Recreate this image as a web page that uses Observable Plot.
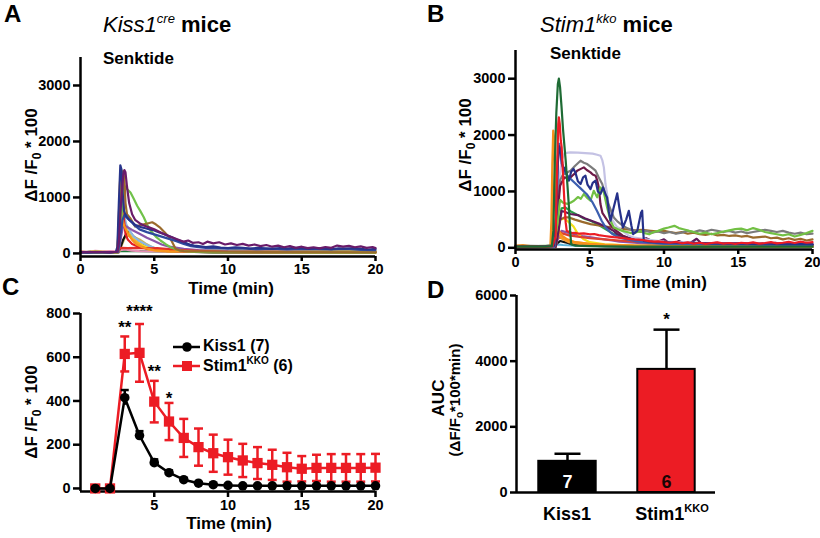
<!DOCTYPE html>
<html><head><meta charset="utf-8">
<script src="https://cdn.jsdelivr.net/npm/d3@7"></script>
<script src="https://cdn.jsdelivr.net/npm/@observablehq/plot@0.6"></script>
<style>
body{margin:0;background:#fff;}
#fig{position:relative;width:820px;height:538px;overflow:hidden;background:#fff;font-family:"Liberation Sans",Arial,Helvetica,sans-serif;}
</style></head><body><div id="fig"></div>
<script>
// ---------- DATA ----------
// Panel A / B tick labels
const TRACE_X_TICKS = [0, 5, 10, 15, 20];
const TRACE_Y_TICKS = [0, 1000, 2000, 3000];
const C_X_TICKS = [5, 10, 15, 20];
const C_Y_TICKS = [0, 200, 400, 600, 800];
const D_Y_TICKS = [0, 2000, 4000, 6000];

// Panel A traces (time min, ΔF/F0*100) – Kiss1cre
const A_darkgreen = [[0,30],[0.3,20],[0.7,35],[1.2,25],[1.6,30],[2,20],[2.5,25],[2.7,40],[3,45],[4,40],[5,35],[6,30],[8,25],[10,30],[12,25],[15,30],[20,25]];
const A_pink = [[0,40],[0.5,30],[1,45],[1.5,35],[2,40],[2.5,35],[2.7,60],[3,70],[3.5,50],[4,40],[6,30],[20,20]];
const A_khaki = [[0,10],[2.6,20],[2.8,150],[3.0,280],[3.3,320],[3.6,300],[4.0,250],[4.4,180],[4.8,120],[5.2,80],[6,50],[8,30],[20,20]];
const A_black = [[0,10],[2.5,15],[2.7,100],[2.9,250],[3.1,350],[3.3,400],[3.5,330],[3.8,250],[4.1,170],[4.5,110],[5,70],[5.5,50],[6,40],[7,30],[9,20],[20,15]];
const A_yellow = [[0,30],[0.5,25],[1,35],[1.5,30],[2,25],[2.5,30],[2.65,200],[2.8,450],[3.0,520],[3.2,450],[3.5,320],[3.8,220],[4.2,150],[4.6,100],[5,80],[6,60],[7,50],[8,45],[9,50],[10,40],[10.5,55],[11,45],[11.5,60],[12,50],[12.5,55],[13,65],[13.5,60],[14,70],[14.5,60],[15,55],[15.5,50],[16,60],[16.5,45],[17,55],[17.5,50],[18,60],[18.5,45],[19,55],[19.5,50],[20,45]];
const A_orange2 = [[0,15],[2.5,25],[2.6,500],[2.68,900],[2.78,850],[2.9,620],[3.0,500],[3.2,350],[3.5,260],[3.8,200],[4.2,120],[4.6,70],[5.2,45],[6,30],[20,15]];
const A_lightblue = [[0,15],[2.5,20],[2.6,300],[2.7,1100],[2.78,1250],[2.86,900],[2.95,700],[3.1,520],[3.3,420],[3.6,300],[4.0,220],[4.5,150],[5,100],[5.5,70],[6,50],[7,35],[20,20]];
const A_violet = [[0,10],[2.6,20],[2.75,300],[2.9,500],[3.1,480],[3.5,420],[4,350],[4.5,280],[5,220],[5.5,160],[6,120],[7,80],[8,60],[10,40],[20,30]];
const A_red2 = [[0,10],[2,15],[2.55,20],[2.65,80],[2.75,100],[3.2,95],[3.8,100],[4.5,90],[5.2,95],[5.8,80],[6.5,65],[7.2,55],[8,45],[9,35],[10,25],[12,20],[20,15]];
const A_red = [[0,15],[2,20],[2.55,25],[2.62,600],[2.72,1300],[2.8,1415],[2.88,1100],[2.95,600],[3.05,350],[3.2,250],[3.5,170],[4.0,110],[4.5,90],[5.0,70],[6,50],[7,35],[8,25],[10,20],[20,15]];
const A_orange = [[0,20],[2,25],[2.5,30],[2.58,400],[2.66,1200],[2.72,1450],[2.8,1100],[2.86,600],[2.95,500],[3.1,420],[3.3,320],[3.5,240],[3.8,160],[4.2,110],[4.6,80],[5.0,60],[6,40],[8,30],[20,20]];
const A_green = [[0,10],[2,15],[2.55,20],[2.7,400],[2.85,900],[3.0,1200],[3.15,1150],[3.39,1089],[3.6,980],[3.84,852],[4.05,760],[4.29,645],[4.5,520],[4.75,408],[5.1,300],[5.42,231],[5.8,160],[6.1,112],[6.5,70],[6.78,50],[7.5,30],[9,20],[20,15]];
const A_brown = [[0,25],[1,20],[2,25],[2.5,30],[2.58,500],[2.62,830],[2.72,840],[2.82,1350],[2.9,1474],[2.98,1300],[3.05,900],[3.15,700],[3.4,620],[3.7,480],[4.0,500],[4.3,520],[4.6,540],[4.86,556],[5.1,520],[5.42,456],[5.7,380],[5.9,320],[6.1,261],[6.3,160],[6.44,83],[6.7,55],[7,40],[8,35],[10,30],[14,25],[20,20]];
const A_blue2 = [[0,15],[2,20],[2.55,30],[2.7,300],[2.85,600],[3.0,700],[3.1,680],[3.3,600],[3.6,520],[4.0,430],[4.5,380],[5.0,340],[5.5,300],[6.0,260],[6.5,220],[7.0,170],[7.5,130],[8,110],[8.5,100],[9,95],[10,85],[11,90],[12,75],[13,85],[14,70],[15,80],[16,75],[17,70],[18,80],[19,65],[20,60]];
const A_navy = [[0,25],[0.5,20],[1,30],[1.5,25],[2,20],[2.4,30],[2.5,120],[2.6,900],[2.7,1575],[2.78,1500],[2.85,1100],[2.95,760],[3.1,650],[3.3,600],[3.5,560],[3.7,510],[3.9,490],[4.1,470],[4.4,450],[4.7,430],[5.0,410],[5.3,380],[5.6,350],[5.9,320],[6.2,290],[6.5,250],[6.8,220],[7.1,190],[7.4,160],[7.7,140],[8.0,130],[8.5,115],[9,125],[9.5,105],[10,95],[10.5,110],[11,100],[11.5,85],[12,100],[12.5,90],[13,80],[13.5,95],[14,85],[14.5,100],[15,95],[15.5,80],[16,95],[16.5,85],[17,75],[17.5,90],[18,85],[18.5,95],[19,80],[19.5,70],[20,80]];
const A_purple = [[0,20],[1,25],[2,20],[2.5,30],[2.6,200],[2.75,900],[2.9,1400],[2.98,1487],[3.05,1450],[3.15,1200],[3.3,900],[3.5,700],[3.7,600],[4.0,540],[4.3,500],[4.6,470],[5.0,430],[5.4,380],[5.8,330],[6.2,290],[6.6,250],[7.0,210],[7.3,230],[7.6,190],[8.0,200],[8.3,170],[8.6,210],[9.0,180],[9.4,200],[9.8,160],[10.2,180],[10.6,150],[11,170],[11.4,140],[11.8,160],[12.2,130],[12.6,150],[13,120],[13.4,140],[13.8,110],[14.2,130],[14.6,100],[15,120],[15.4,95],[15.8,110],[16.2,90],[16.6,115],[17,100],[17.4,140],[17.8,120],[18.2,135],[18.6,110],[19,125],[19.4,100],[19.8,115],[20,95]];

// Panel B traces – Stim1kko
const B_cyan = [[0,5],[2.6,10],[2.8,60],[3.2,50],[4,40],[6,30],[10,20],[20,15]];
const B_black = [[0,10],[2.6,15],[2.8,80],[3,120],[3.3,100],[3.6,80],[4,60],[5,40],[6,30],[8,20],[20,15]];
const B_orange3 = [[0,10],[2.6,15],[2.8,150],[3,180],[3.5,130],[4,100],[5,70],[6,50],[8,35],[10,30],[20,25]];
const B_violet = [[0,10],[2.7,15],[2.9,200],[3.1,300],[3.5,270],[4,240],[4.5,210],[5,190],[5.5,170],[6,150],[6.5,130],[7,110],[8,90],[9,70],[10,60],[12,55],[15,50],[20,45]];
const B_yellow = [[0,15],[2.7,20],[2.85,300],[3.0,500],[3.3,520],[3.6,450],[3.9,380],[4.2,250],[4.6,150],[5,100],[6,60],[8,40],[20,25]];
const B_red2 = [[0,10],[2.7,15],[2.9,300],[3.1,260],[3.6,220],[4.2,200],[5,170],[6,150],[7,130],[8,110],[9,100],[10,80],[12,70],[14,60],[16,55],[18,60],[20,50]];
const B_green2 = [[0,15],[2.7,20],[2.9,400],[3.1,700],[3.35,716],[3.7,650],[4.2,580],[4.6,520],[5.05,480],[5.5,420],[6.0,340],[6.62,243],[7.2,190],[7.8,150],[8.4,124],[9,100],[10,85],[11,70],[12,75],[13,60],[14,65],[15,55],[16,60],[17,50],[18,55],[19,45],[20,50]];
const B_brown = [[0,30],[1,25],[2,30],[2.6,35],[2.8,300],[3.0,500],[3.3,540],[3.6,539],[4.0,500],[4.5,460],[5.05,420],[5.5,400],[6.0,380],[6.5,360],[7.0,340],[7.3,331],[7.7,320],[8.1,310],[8.5,320],[9.1,302],[9.5,290],[10,300],[10.4,280],[10.8,260],[11.2,280],[11.6,250],[12,270],[12.4,240],[12.8,230],[13.2,250],[13.6,220],[14,230],[14.4,210],[14.8,220],[15.2,200],[15.6,210],[16,180],[16.4,190],[16.8,200],[17.2,170],[17.6,180],[18,150],[18.4,170],[18.8,140],[19.2,160],[19.6,130],[20,150]];
const B_orange2 = [[0,20],[2.4,25],[2.5,300],[2.58,1000],[2.66,1400],[2.75,1200],[2.85,500],[2.95,250],[3.2,150],[3.6,100],[4.5,60],[6,40],[20,25]];
const B_orange = [[0,40],[0.5,50],[1,30],[2,25],[2.35,40],[2.42,500],[2.48,1500],[2.54,2078],[2.6,1950],[2.66,1300],[2.72,700],[2.8,400],[2.95,280],[3.2,200],[3.5,150],[4,100],[5,70],[6,55],[8,40],[10,35],[20,30]];
const B_plum2 = [[0,15],[2.7,20],[2.9,300],[3.1,650],[3.3,640],[3.7,600],[4.2,580],[4.7,520],[5.2,470],[5.7,420],[6.2,360],[6.6,300],[6.85,243],[7.2,210],[7.6,180],[8,160],[8.4,140],[8.8,170],[9.2,120],[9.6,110],[10,150],[10.3,90],[10.7,80],[11,120],[11.4,70],[11.8,90],[12.2,160],[12.5,80],[13,70],[13.5,90],[14,75],[15,80],[16,70],[17,60],[17.5,90],[18,65],[19,70],[20,60]];
const B_lavender = [[0,15],[2.6,20],[2.75,400],[2.9,1100],[3.1,1550],[3.3,1680],[3.7,1693],[4.2,1690],[4.7,1680],[5.2,1670],[5.5,1650],[5.72,1634],[5.85,1550],[5.95,1427],[6.06,1131],[6.17,954],[6.3,700],[6.5,500],[6.8,380],[7.2,300],[7.6,220],[8,180],[9,140],[10,110],[12,90],[15,80],[20,70]];
const B_gray = [[0,30],[1,35],[2,30],[2.6,40],[2.8,600],[3.0,1200],[3.2,1300],[3.5,1340],[3.7,1368],[4.0,1450],[4.2,1500],[4.38,1545],[4.6,1510],[4.83,1486],[5.1,1430],[5.39,1368],[5.6,1250],[5.84,1131],[6.0,980],[6.17,835],[6.4,680],[6.62,539],[6.9,460],[7.2,400],[7.5,350],[7.8,320],[8.1,300],[8.4,280],[8.8,300],[9.2,270],[9.6,290],[10,260],[10.4,280],[10.8,250],[11.2,270],[11.6,300],[12,280],[12.4,310],[12.8,290],[13.2,320],[13.6,300],[14,280],[14.4,300],[14.8,270],[15.2,290],[15.6,260],[16,280],[16.4,300],[16.8,320],[17.2,300],[17.6,280],[18,300],[18.4,270],[18.8,250],[19.2,270],[19.6,240],[20,250]];
const B_plum = [[0,20],[2.6,25],[2.8,500],[3.0,1100],[3.3,1250],[3.6,1220],[3.82,1279],[4.0,1320],[4.15,1368],[4.4,1400],[4.6,1427],[4.8,1380],[5.05,1338],[5.2,1300],[5.39,1279],[5.5,1200],[5.61,1071],[5.72,776],[5.85,620],[6.1,520],[6.4,400],[6.8,300],[7.2,220],[7.6,170],[8,140],[9,110],[10,90],[12,80],[15,70],[20,60]];
const B_lime = [[0,30],[1,25],[2,35],[2.6,40],[2.8,400],[3.0,850],[3.2,800],[3.5,780],[3.7,800],[3.93,835],[4.2,900],[4.4,870],[4.6,954],[4.85,880],[5.05,835],[5.27,1012],[5.5,895],[5.72,1071],[5.95,983],[6.17,716],[6.4,480],[6.62,362],[6.9,330],[7.2,300],[7.5,280],[7.8,260],[8.1,270],[8.4,300],[8.7,260],[9,240],[9.3,280],[9.6,300],[10,340],[10.3,360],[10.7,390],[11,350],[11.3,330],[11.7,300],[12,280],[12.4,250],[12.8,270],[13.2,240],[13.6,260],[14,290],[14.4,310],[14.8,330],[15.2,340],[15.6,310],[16,350],[16.4,320],[16.8,280],[17.2,260],[17.6,240],[18,220],[18.4,240],[18.8,200],[19.2,230],[19.6,260],[20,300]];
const B_blue2 = [[0,20],[2.6,25],[2.75,700],[2.85,1600],[2.92,1850],[3.0,1750],[3.1,1500],[3.3,1350],[3.6,1250],[4.0,1150],[4.4,1050],[4.8,950],[5.2,800],[5.5,650],[5.8,480],[6.1,350],[6.5,250],[7,180],[8,120],[9,90],[10,70],[20,50]];
const B_navy = [[0,25],[1,20],[2,30],[2.6,40],[2.75,600],[2.85,1500],[2.95,1800],[3.05,1700],[3.15,1500],[3.25,1368],[3.35,1427],[3.45,1300],[3.59,1190],[3.75,1350],[3.9,1400],[4.04,1330],[4.2,1180],[4.38,1131],[4.55,1250],[4.71,1279],[4.85,1120],[5.05,1042],[5.2,1150],[5.39,1190],[5.55,1000],[5.72,954],[5.9,1071],[6.06,950],[6.17,893],[6.28,650],[6.4,480],[6.6,700],[6.85,965],[7.0,700],[7.23,361],[7.45,500],[7.63,657],[7.8,400],[7.92,243],[8.2,300],[8.45,620],[8.53,657],[8.58,400],[8.64,124],[9,110],[9.5,95],[10,100],[11,85],[12,90],[13,80],[14,75],[15,80],[16,70],[17,75],[18,65],[19,70],[20,60]];
const B_red = [[0,20],[1,25],[2,15],[2.5,30],[2.7,200],[2.8,1400],[2.88,2200],[2.92,2315],[2.98,2200],[3.05,1900],[3.11,1781],[3.2,1300],[3.29,835],[3.38,450],[3.45,302],[3.6,280],[3.8,260],[4.0,265],[4.3,250],[4.6,255],[5.0,240],[5.3,245],[5.6,225],[6.0,210],[6.3,200],[6.6,190],[7.0,180],[7.3,170],[7.6,160],[8.0,150],[8.3,145],[8.6,136],[9.0,120],[9.3,110],[9.6,115],[10,100],[10.4,90],[10.8,105],[11.2,80],[11.6,95],[12,75],[12.4,90],[12.8,70],[13.2,85],[13.6,95],[14,75],[14.4,85],[14.8,70],[15.2,90],[15.6,80],[16,95],[16.4,75],[16.8,85],[17.2,100],[17.6,80],[18,90],[18.4,105],[18.8,85],[19.2,110],[19.6,90],[20,100]];
const B_darkgreen = [[0,20],[1,25],[2,20],[2.45,30],[2.55,300],[2.65,1545],[2.75,2400],[2.85,2900],[2.92,3000],[3.0,2850],[3.1,2500],[3.2,2100],[3.38,1545],[3.5,1100],[3.6,716],[3.68,300],[3.75,60],[4,40],[5,30],[6,25],[8,20],[20,20]];

// Panel C: mean ± SEM per minute
const C_time = [1,2,3,4,5,6,7,8,9,10,11,12,13,14,15,16,17,18,19,20];
const C_kissMean = [0,0,415,242,118,72,40,24,17,14,12,12,12,12,12,12,12,12,12,12];
const C_kissSE   = [0,0,35,20,15,10,7,5,4,3,3,3,3,3,3,3,3,3,3,3];
const C_stimMean = [0,0,615,620,397,306,231,189,161,143,128,116,108,97,90,94,94,94,94,95];
const C_stimSE   = [0,0,80,132,95,85,87,85,85,80,76,73,69,66,58,60,63,63,63,63];
const C_starTime = [3,4,5,6];
const C_starText = ["**","****","**","*"];
const C_starY    = [736,809,535,409];

// Panel D: AUC
const D_cats = ["Kiss1","Stim1KKO"];
const D_mean = [950, 3750];
const D_se   = [230, 1210];
const D_n    = [7, 6];
const D_star = ["", "*"];
const D_starY = [0, 5270];
const D_nY = 320;

// ---------- STYLES ----------
const A_COLORS = {darkgreen:"#1f7a3a", pink:"#e58fb5", khaki:"#c9b45a", black:"#111", yellow:"#f3e01a", orange2:"#f5a630", lightblue:"#8db6e2", violet:"#8b55a8", red2:"#e3312b", red:"#e31e24", orange:"#f7941d", green:"#70c24a", brown:"#9b6b2c", blue2:"#2f4a9e", navy:"#27348b", purple:"#6a1b6a"};
const A_LIST = [["darkgreen",A_darkgreen],["pink",A_pink],["khaki",A_khaki],["black",A_black],["yellow",A_yellow],["orange2",A_orange2],["lightblue",A_lightblue],["violet",A_violet],["red2",A_red2],["red",A_red],["orange",A_orange],["green",A_green],["brown",A_brown],["blue2",A_blue2],["navy",A_navy],["purple",A_purple]];
const B_COLORS = {cyan:"#5bb3d9", black:"#111", orange3:"#f7941d", violet:"#8e55a8", yellow:"#f2e01a", red2:"#e0402f", green2:"#2aa048", brown:"#9a6a2c", orange2:"#f39a2e", orange:"#f7901a", plum2:"#5e1a5a", lavender:"#c4c2e4", gray:"#7b7b7b", plum:"#6d1a48", lime:"#72c044", blue2:"#3c5fb0", navy:"#25318a", red:"#ec1c24", darkgreen:"#1e6b34"};
const B_LIST = [["cyan",B_cyan],["black",B_black],["orange3",B_orange3],["violet",B_violet],["yellow",B_yellow],["red2",B_red2],["green2",B_green2],["brown",B_brown],["orange2",B_orange2],["orange",B_orange],["plum2",B_plum2],["lavender",B_lavender],["gray",B_gray],["plum",B_plum],["lime",B_lime],["blue2",B_blue2],["navy",B_navy],["red",B_red],["darkgreen",B_darkgreen]];
const RED = "#ec1c24";
const FONT = "Liberation Sans, Arial, Helvetica, sans-serif";
const baseStyle = {fontFamily: FONT, fontSize: "14px", fontWeight: "bold", color: "black", background: "transparent", overflow: "visible"};
const TICK_FONT = 14.5;

const fig = document.getElementById("fig");
function place(el, left, top) { el.style.position = "absolute"; el.style.left = left + "px"; el.style.top = top + "px"; fig.appendChild(el); }
function traceMarks(list, colors) {
  return list.map(([k, arr]) => Plot.line(arr, {x: d => d[0], y: d => d[1], stroke: colors[k], strokeWidth: 2.2, strokeLinejoin: "round"}));
}
const capSymbol = {draw(ctx, size) { const r = Math.sqrt(size / Math.PI); ctx.moveTo(-r, 0); ctx.lineTo(r, 0); }};
const tickOpts = {tickFormat: () => "", label: null, strokeWidth: 2.5, stroke: "black"};
// tick labels as text marks (bold, black), positioned through the scales
function yLabels(ticks, x0, tickSize) {
  return Plot.text(ticks, {x: x0, y: d => d, text: d => String(d), textAnchor: "end", lineAnchor: "middle", dx: -(tickSize + 3), fontSize: TICK_FONT, fontWeight: "bold", fill: "black"});
}
function xLabels(ticks, y0, tickSize) {
  return Plot.text(ticks, {x: d => d, y: y0, text: d => String(d), lineAnchor: "top", dy: tickSize + 2, fontSize: TICK_FONT, fontWeight: "bold", fill: "black"});
}

// ---------- PANEL A ----------
const yMinA = -55, yMaxA = 3500;
const plotA = Plot.plot({
  width: 410, height: 300, marginLeft: 80, marginRight: 35, marginTop: 57, marginBottom: 44,
  x: {domain: [0, 20]}, y: {domain: [yMinA, yMaxA]}, style: baseStyle,
  marks: [
    ...traceMarks(A_LIST, A_COLORS),
    Plot.ruleX([0], {y1: yMinA, y2: yMaxA, strokeWidth: 2.5}),
    Plot.ruleY([yMinA], {x1: 0, x2: 20, strokeWidth: 2.5}),
    Plot.axisY({...tickOpts, ticks: TRACE_Y_TICKS, tickSize: 7}),
    Plot.axisX({...tickOpts, ticks: TRACE_X_TICKS, tickSize: 5}),
    yLabels(TRACE_Y_TICKS, 0, 7),
    xLabels(TRACE_X_TICKS, yMinA, 5)
  ]
});
place(plotA, 0, 0);

// ---------- PANEL B ----------
const yMinB = -30, yMaxB = 3500;
const plotB = Plot.plot({
  width: 410, height: 300, marginLeft: 105, marginRight: 8, marginTop: 50, marginBottom: 51,
  x: {domain: [0, 20]}, y: {domain: [yMinB, yMaxB]}, style: baseStyle,
  marks: [
    ...traceMarks(B_LIST, B_COLORS),
    Plot.ruleX([0], {y1: yMinB, y2: yMaxB, strokeWidth: 2.5}),
    Plot.ruleY([yMinB], {x1: 0, x2: 20, strokeWidth: 2.5}),
    Plot.axisY({...tickOpts, ticks: TRACE_Y_TICKS, tickSize: 7}),
    Plot.axisX({...tickOpts, ticks: TRACE_X_TICKS, tickSize: 5}),
    yLabels(TRACE_Y_TICKS, 0, 7),
    xLabels(TRACE_X_TICKS, yMinB, 5)
  ]
});
place(plotB, 410, 0);

// ---------- PANEL C ----------
const kissRows = C_time.map((t, i) => ({t, m: C_kissMean[i], se: C_kissSE[i]}));
const stimRows = C_time.map((t, i) => ({t, m: C_stimMean[i], se: C_stimSE[i]}));
const starRows = C_starTime.map((t, i) => ({t, y: C_starY[i], s: C_starText[i]}));
const yMinC = -14, yMaxC = 800;
const plotC = Plot.plot({
  width: 410, height: 268, marginLeft: 80, marginRight: 35, marginTop: 43, marginBottom: 47,
  x: {domain: [0, 20]}, y: {domain: [yMinC, yMaxC]}, style: baseStyle,
  marks: [
    Plot.ruleX([0], {y1: yMinC, y2: yMaxC, strokeWidth: 2.5}),
    Plot.ruleY([yMinC], {x1: 0, x2: 20, strokeWidth: 2.5}),
    Plot.axisY({...tickOpts, ticks: C_Y_TICKS, tickSize: 7}),
    Plot.axisX({...tickOpts, ticks: C_X_TICKS, tickSize: 6}),
    yLabels(C_Y_TICKS, 0, 7),
    xLabels(C_X_TICKS, yMinC, 6),
    Plot.ruleX(stimRows, {x: "t", y1: d => d.m - d.se, y2: d => d.m + d.se, stroke: RED, strokeWidth: 2.5}),
    Plot.dot(stimRows, {x: "t", y: d => d.m + d.se, symbol: capSymbol, r: 4.5, stroke: RED, fill: "none", strokeWidth: 2.5}),
    Plot.dot(stimRows, {x: "t", y: d => d.m - d.se, symbol: capSymbol, r: 4.5, stroke: RED, fill: "none", strokeWidth: 2.5}),
    Plot.line(stimRows, {x: "t", y: "m", stroke: RED, strokeWidth: 2.5}),
    Plot.dot(stimRows, {x: "t", y: "m", symbol: "square", r: 5.8, fill: RED, stroke: "none"}),
    Plot.ruleX(kissRows, {x: "t", y1: d => d.m - d.se, y2: d => d.m + d.se, stroke: "black", strokeWidth: 2.5}),
    Plot.dot(kissRows, {x: "t", y: d => d.m + d.se, symbol: capSymbol, r: 4, stroke: "black", fill: "none", strokeWidth: 2.5}),
    Plot.line(kissRows, {x: "t", y: "m", stroke: "black", strokeWidth: 2.5}),
    Plot.dot(kissRows, {x: "t", y: "m", r: 4.8, fill: "black", stroke: "none"}),
    Plot.text(starRows, {x: "t", y: "y", text: "s", fontSize: 17, fontWeight: "bold", lineAnchor: "middle", fill: "black"})
  ]
});
place(plotC, 0, 270);

// ---------- PANEL D ----------
const dRows = D_cats.map((c, i) => ({i, c, mean: D_mean[i], se: D_se[i], n: D_n[i], star: D_star[i], starY: D_starY[i]}));
const xMinD = -0.515, xMaxD = 1.495;
const plotD = Plot.plot({
  width: 410, height: 268, marginLeft: 106, marginRight: 105, marginTop: 25, marginBottom: 46,
  x: {domain: [xMinD, xMaxD], axis: null}, y: {domain: [0, 6000]}, color: {type: "identity"}, style: baseStyle,
  marks: [
    Plot.ruleX(dRows, {x: "i", y1: "mean", y2: d => d.mean + d.se, stroke: "black", strokeWidth: 2.5}),
    Plot.dot(dRows, {x: "i", y: d => d.mean + d.se, symbol: capSymbol, r: 13, stroke: "black", fill: "none", strokeWidth: 2.5}),
    Plot.rectY(dRows, {x1: d => d.i - 0.29, x2: d => d.i + 0.29, y1: 0, y2: "mean", fill: d => d.i === 0 ? "black" : RED, stroke: "black", strokeWidth: 2}),
    Plot.text(dRows, {x: "i", y: D_nY, text: d => String(d.n), fill: d => d.i === 0 ? "white" : "#1a0505", fontSize: 18, fontWeight: "bold", lineAnchor: "middle"}),
    Plot.text(dRows.filter(d => d.star), {x: "i", y: "starY", text: "star", fontSize: 17, fontWeight: "bold", lineAnchor: "middle", fill: "black"}),
    Plot.ruleX([xMinD], {y1: 0, y2: 6000, strokeWidth: 2.5}),
    Plot.ruleY([0], {x1: xMinD, x2: xMaxD, strokeWidth: 2.5}),
    Plot.axisY({...tickOpts, ticks: D_Y_TICKS, tickSize: 6}),
    yLabels(D_Y_TICKS, xMinD, 6)
  ]
});
place(plotD, 410, 270);

// ---------- TEXT OVERLAY ----------
const xD = plotD.scale("x");
const dLabX = D_cats.map((c, i) => 410 + xD.apply(i));
const NS = "http://www.w3.org/2000/svg";
const ov = document.createElementNS(NS, "svg");
ov.setAttribute("width", 820); ov.setAttribute("height", 538);
ov.style.pointerEvents = "none";
ov.innerHTML = `
<g font-family="${FONT}" fill="black">
  <text x="4" y="22" font-size="24" font-weight="bold">A</text>
  <text x="427" y="22" font-size="24" font-weight="bold">B</text>
  <text x="2" y="295" font-size="24" font-weight="bold">C</text>
  <text x="427" y="298" font-size="24" font-weight="bold">D</text>

  <text x="103" y="32" font-size="22"><tspan font-style="italic">Kiss1</tspan><tspan font-style="italic" font-size="13" dy="-9">cre</tspan><tspan font-weight="bold" dy="9"> mice</tspan></text>
  <text x="540" y="32" font-size="22"><tspan font-style="italic">Stim1</tspan><tspan font-style="italic" font-size="13" dy="-9">kko</tspan><tspan font-weight="bold" dy="9"> mice</tspan></text>

  <text x="103" y="64" font-size="17" font-weight="bold">Senktide</text>
  <text x="550" y="59" font-size="17" font-weight="bold">Senktide</text>

  <text transform="translate(37,155) rotate(-90)" text-anchor="middle" font-size="17" font-weight="bold">ΔF /F<tspan font-size="12" dy="4">0</tspan><tspan dy="-4"> * 100</tspan></text>
  <text transform="translate(471,145) rotate(-90)" text-anchor="middle" font-size="17" font-weight="bold">ΔF /F<tspan font-size="12" dy="4">0</tspan><tspan dy="-4"> * 100</tspan></text>
  <text transform="translate(37,412) rotate(-90)" text-anchor="middle" font-size="17" font-weight="bold">ΔF /F<tspan font-size="12" dy="4">0</tspan><tspan dy="-4"> * 100</tspan></text>

  <text x="231" y="294" text-anchor="middle" font-size="17" font-weight="bold">Time (min)</text>
  <text x="664" y="288" text-anchor="middle" font-size="17" font-weight="bold">Time (min)</text>
  <text x="229" y="529" text-anchor="middle" font-size="17" font-weight="bold">Time (min)</text>

  <text transform="translate(444,398) rotate(-90)" text-anchor="middle" font-size="17" font-weight="bold">AUC</text>
  <text transform="translate(460,400) rotate(-90)" text-anchor="middle" font-size="15" font-weight="bold">(ΔF/F<tspan font-size="10" dy="3">o</tspan><tspan dy="-3">*100*min)</tspan></text>

  <text x="${dLabX[0]}" y="520" text-anchor="middle" font-size="18" font-weight="bold">${D_cats[0]}</text>
  <text x="${dLabX[1] + 6}" y="520" text-anchor="middle" font-size="18" font-weight="bold">Stim1<tspan font-size="11" dy="-8">KKO</tspan></text>

  <line x1="173" y1="347" x2="200" y2="347" stroke="black" stroke-width="2.5"/>
  <circle cx="187" cy="347" r="4.8" fill="black"/>
  <text x="203" y="351" font-size="16" font-weight="bold">Kiss1 (7)</text>
  <line x1="173" y1="366" x2="200" y2="366" stroke="${RED}" stroke-width="2.5"/>
  <rect x="182" y="361" width="10" height="10" fill="${RED}"/>
  <text x="203" y="371" font-size="16" font-weight="bold">Stim1<tspan font-size="10" dy="-7">KKO</tspan><tspan dy="7"> (6)</tspan></text>
</g>`;
place(ov, 0, 0);
</script></body></html>
